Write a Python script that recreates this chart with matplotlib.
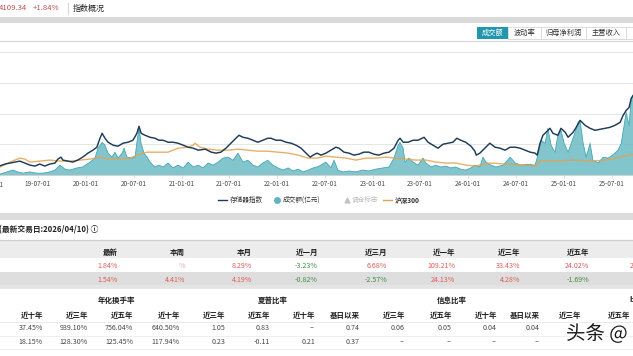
import matplotlib
matplotlib.use('Agg')
import matplotlib.pyplot as plt
from matplotlib.patches import Rectangle
from matplotlib.lines import Line2D
import matplotlib.patheffects as pe
import matplotlib.dates as mdates
import pandas as pd

plt.rcParams['font.family'] = ['Noto Sans CJK SC', 'DejaVu Sans']

# ---------------- data ----------------
index_dates = ['2019-02-07','2019-02-26','2019-03-17','2019-04-05','2019-04-24','2019-05-13','2019-06-01','2019-06-20',
 '2019-07-09','2019-07-28','2019-08-16','2019-09-05','2019-09-16','2019-09-28','2019-10-05','2019-10-24','2019-11-12',
 '2019-12-01','2019-12-20','2020-01-09','2020-01-28','2020-02-12','2020-02-24','2020-03-03','2020-03-14','2020-03-26',
 '2020-04-14','2020-05-03','2020-05-22','2020-06-10','2020-06-29','2020-07-14','2020-07-22','2020-07-30','2020-08-14',
 '2020-09-02','2020-09-21','2020-10-06','2020-10-22','2020-11-10','2020-11-29','2020-12-18','2021-01-07','2021-01-26',
 '2021-02-14','2021-03-05','2021-04-01','2021-04-24','2021-05-12','2021-05-31','2021-06-19','2021-07-08','2021-07-27',
 '2021-08-08','2021-08-23','2021-09-11','2021-09-30','2021-10-19','2021-11-07','2021-11-26','2021-12-08','2021-12-27',
 '2022-01-15','2022-02-04','2022-02-23','2022-03-14','2022-04-02','2022-04-21','2022-05-07','2022-05-18','2022-06-02',
 '2022-06-17','2022-07-06','2022-07-25','2022-08-13','2022-08-25','2022-09-13','2022-10-02','2022-10-21','2022-11-09',
 '2022-11-28','2022-12-17','2023-01-05','2023-01-24','2023-02-13','2023-03-04','2023-03-23','2023-04-08','2023-04-15',
 '2023-04-27','2023-05-16','2023-06-04','2023-06-23','2023-07-08','2023-07-16','2023-07-31','2023-08-19','2023-09-07',
 '2023-09-26','2023-10-15','2023-11-03','2023-11-18','2023-12-03','2023-12-22','2024-01-11','2024-01-26','2024-01-31',
 '2024-02-14','2024-03-04','2024-03-23','2024-04-12','2024-05-01','2024-05-20','2024-06-09','2024-06-28','2024-07-17',
 '2024-08-05','2024-08-24','2024-09-12','2024-09-20','2024-10-01','2024-10-12','2024-10-24','2024-11-08','2024-11-19',
 '2024-12-08','2024-12-20','2025-01-05','2025-01-16','2025-02-04','2025-02-16','2025-03-03','2025-03-22','2025-04-10',
 '2025-04-29','2025-05-18','2025-06-07','2025-06-25','2025-07-14','2025-08-03','2025-08-14','2025-08-26','2025-09-06',
 '2025-09-14','2025-09-21']
index_values = [300,355,388,420,452,388,323,291,355,291,355,388,517,581,485,452,420,485,581,711,808,904,1195,1357,1195,
 1066,969,937,1034,1066,1131,1357,1583,1357,1292,1227,1195,1131,1131,1066,1066,1034,969,904,872,808,840,743,711,743,872,
 1034,1195,1292,1227,1195,1131,1066,1131,1195,1195,1131,1131,1066,1034,969,872,711,581,646,711,646,711,808,904,872,743,
 711,646,678,743,743,678,646,711,743,872,1131,1195,1066,1066,1131,1131,1195,1227,1066,969,872,1001,1034,1066,1195,1131,
 1066,937,775,646,711,872,1034,904,872,808,904,904,872,808,743,711,646,1034,1292,1389,1518,1357,1292,1518,1389,1227,
 1389,1550,1777,1615,1518,1454,1486,1518,1550,1615,1712,1938,2100,2196,2487,2584]

hs300_dates = ['2019-02-07','2019-03-17','2019-04-24','2019-05-13','2019-06-01','2019-07-09','2019-08-16','2019-09-24',
 '2019-11-01','2019-12-09','2020-01-17','2020-02-24','2020-04-02','2020-05-11','2020-06-18','2020-07-14','2020-08-22',
 '2020-09-29','2020-11-10','2020-12-18','2021-01-26','2021-02-14','2021-02-21','2021-03-12','2021-04-12','2021-05-20',
 '2021-06-27','2021-08-04','2021-09-11','2021-10-19','2021-11-26','2022-01-04','2022-02-12','2022-03-22','2022-04-29',
 '2022-06-02','2022-07-06','2022-08-13','2022-09-21','2022-10-29','2022-12-06','2023-01-13','2023-02-20','2023-03-31',
 '2023-05-08','2023-06-15','2023-07-23','2023-08-30','2023-10-07','2023-11-14','2023-12-22','2024-01-26','2024-03-23',
 '2024-05-24','2024-07-28','2024-09-16','2024-09-28','2024-12-01','2025-02-04','2025-04-10','2025-06-10','2025-08-03',
 '2025-09-21']
hs300_values = [258,420,549,517,420,452,485,452,452,485,517,581,517,517,549,646,743,743,743,872,904,969,1034,904,840,808,
 808,840,808,775,775,743,711,646,549,549,614,581,549,485,549,549,581,549,517,485,485,420,388,388,323,291,388,355,323,291,
 452,452,485,452,485,581,678]

volume_dates = ['2019-02-07','2019-03-05','2019-03-28','2019-04-16','2019-05-05','2019-06-01','2019-06-27','2019-07-20',
 '2019-08-16','2019-09-05','2019-09-24','2019-10-13','2019-11-01','2019-11-28','2019-12-20','2020-01-17','2020-02-05',
 '2020-02-16','2020-03-03','2020-03-14','2020-03-26','2020-04-10','2020-04-21','2020-05-03','2020-05-18','2020-05-26',
 '2020-06-06','2020-06-25','2020-07-07','2020-07-14','2020-07-22','2020-07-30','2020-08-10','2020-08-22','2020-09-02',
 '2020-09-21','2020-10-06','2020-10-22','2020-11-10','2020-11-29','2020-12-18','2021-01-07','2021-01-26','2021-02-14',
 '2021-03-05','2021-03-24','2021-04-12','2021-05-01','2021-05-20','2021-06-08','2021-06-27','2021-07-16','2021-08-04',
 '2021-08-23','2021-09-11','2021-09-30','2021-10-19','2021-11-07','2021-11-26','2021-12-15','2022-01-04','2022-01-23',
 '2022-02-12','2022-03-03','2022-03-22','2022-04-10','2022-04-29','2022-05-18','2022-06-02','2022-06-17','2022-07-06',
 '2022-07-25','2022-08-06','2022-08-21','2022-09-09','2022-10-02','2022-10-29','2022-11-24','2022-12-17','2023-01-13',
 '2023-02-09','2023-03-04','2023-03-23','2023-04-08','2023-04-15','2023-04-27','2023-05-04','2023-05-19','2023-06-04',
 '2023-06-23','2023-07-12','2023-07-23','2023-08-11','2023-08-30','2023-09-18','2023-10-07','2023-10-26','2023-11-14',
 '2023-12-03','2023-12-22','2024-01-11','2024-01-26','2024-02-14','2024-02-26','2024-03-08','2024-03-27','2024-04-16',
 '2024-05-13','2024-06-09','2024-06-28','2024-07-21','2024-08-16','2024-09-12','2024-09-23','2024-10-05','2024-10-20',
 '2024-10-31','2024-11-12','2024-11-27','2024-12-08','2024-12-20','2025-01-01','2025-01-16','2025-01-28','2025-02-12',
 '2025-02-23','2025-03-03','2025-03-14','2025-03-26','2025-04-10','2025-04-21','2025-05-11','2025-05-30','2025-06-18',
 '2025-07-06','2025-07-26','2025-08-07','2025-08-18','2025-08-26','2025-09-06','2025-09-14','2025-09-21']
volume_values = [3,10,16,10,6,10,6,6,10,16,32,19,16,23,26,42,55,87,106,97,71,58,74,55,71,87,58,55,58,106,152,103,71,58,
 42,26,32,26,39,23,32,23,42,26,32,23,39,32,42,55,58,48,71,42,48,32,26,39,48,32,23,16,23,13,19,10,16,23,26,32,42,23,48,
 16,10,13,10,16,13,19,23,26,55,97,106,87,42,55,42,32,55,39,26,32,26,29,23,26,19,16,23,32,26,58,42,32,26,32,58,39,32,
 35,32,65,113,103,152,97,74,129,145,103,74,103,139,171,177,106,58,103,48,39,58,55,65,81,103,161,203,161,248,258]

tick_dates = ['2019-07-01','2020-01-01','2020-07-01','2021-01-01','2021-07-01','2022-01-01','2022-07-01',
              '2023-01-01','2023-07-01','2024-01-01','2024-07-01','2025-01-01','2025-07-01']

perf_headers = ['最新', '本周', '本月', '近一月', '近三月', '近一年', '近三年', '近五年']
perf_row1 = ['1.84%', '%', '8.29%', '-3.23%', '6.68%', '109.21%', '33.43%', '24.02%']
perf_row2 = ['1.54%', '4.41%', '4.19%', '-0.82%', '-2.57%', '24.13%', '4.28%', '-1.69%']

risk_groups = ['年化换手率', '夏普比率', '信息比率']
risk_sub = ['近十年', '近三年', '近五年', '近十年', '近三年', '近五年', '近十年', '基日以来',
            '近三年', '近五年', '近十年', '基日以来', '近三年', '近五年']
risk_rowA = ['37.45%', '939.10%', '756.04%', '640.50%', '1.05', '0.83', '--', '0.74', '0.06', '0.05', '0.04', '0.04']
risk_rowB = ['18.15%', '128.30%', '125.45%', '117.94%', '0.23', '-0.11', '0.21', '0.37', '--', '--', '--', '--']

# ---------------- figure ----------------
W, H = 633, 356
fig = plt.figure(figsize=(W / 100, H / 100), dpi=100)
fig.patch.set_facecolor('white')

def fx(x):
    return x / W

def fy(y):
    return 1 - y / H

def rect(x0, y0, x1, y1, fc, ec='none', lw=0.0, z=0):
    fig.add_artist(Rectangle((fx(x0), fy(y1)), fx(x1) - fx(x0), fy(y0) - fy(y1),
                             transform=fig.transFigure, facecolor=fc, edgecolor=ec,
                             linewidth=lw, zorder=z))

def hline(x0, x1, y, color, lw=0.6, z=1):
    fig.add_artist(Line2D([fx(x0), fx(x1)], [fy(y), fy(y)], transform=fig.transFigure,
                          color=color, lw=lw, zorder=z))

def vline(x, y0, y1, color, lw=0.6, z=1):
    fig.add_artist(Line2D([fx(x), fx(x)], [fy(y0), fy(y1)], transform=fig.transFigure,
                          color=color, lw=lw, zorder=z))

def txt(x, y, s, size=5.2, color='#333333', ha='left', weight='normal', z=3):
    return fig.text(fx(x), fy(y), s, fontsize=size, color=color, ha=ha, va='center',
                    weight=weight, zorder=z)

RED = '#de5b5b'
GREEN = '#3d8f45'

# header
txt(-1, 8.5, '4109.34', 5.6, '#c0504d')
txt(33, 8.5, '+1.84%', 5.6, '#c0504d')
vline(68, 3, 14, '#d8d8d8', 0.8)
txt(73, 8.5, '指数概况', 5.8, '#222222')
rect(0, 17, W, 23, '#dadada')
hline(0, W, 41, '#d4d4d4', 0.8)

# tabs
rect(477, 27, 508, 39, '#2196ae', z=2)
txt(492.5, 33, '成交额', 5.2, 'white', ha='center')
rect(508, 27, 640, 39, 'white', ec='#d6d6d6', lw=0.6, z=2)
for sx in (541, 586, 626):
    vline(sx, 27, 39, '#d6d6d6', 0.6, z=3)
txt(524.5, 33, '波动率', 5.2, '#333333', ha='center')
txt(564, 33, '归母净利润', 5.2, '#333333', ha='center')
txt(606, 33, '主营收入', 5.2, '#333333', ha='center')

# ---------------- chart ----------------
xl0 = pd.Timestamp('2019-02-07')
xl1 = pd.Timestamp('2025-09-21')
ax = fig.add_axes([0, fy(175), 1, fy(52) - fy(175)])
ax.set_xlim(xl0, xl1)
ax.set_ylim(0, 400)
ax.set_facecolor('none')
vd = pd.to_datetime(volume_dates)
ax.fill_between(vd, volume_values, 0, color='#74bfc8', alpha=0.9, linewidth=0, zorder=2)
ax.plot(vd, volume_values, color='#45a6b5', lw=0.6, zorder=3)
ax.set_yticks([0, 100, 200, 300, 400])
ax.yaxis.grid(True, color='#e6e6e6', lw=0.7)
ax.set_axisbelow(True)
ax.tick_params(axis='y', length=0, labelleft=False)
for s in ('left', 'right', 'top'):
    ax.spines[s].set_visible(False)
ax.spines['bottom'].set_color('#d0d0d0')
ax.spines['bottom'].set_linewidth(0.7)
ax.set_xticks(pd.to_datetime(tick_dates))
ax.xaxis.set_major_formatter(mdates.DateFormatter('%y-%m-%d'))
ax.tick_params(axis='x', length=2, width=0.5, color='#cccccc', pad=1.8,
               labelsize=4.6, labelcolor='#4a4a4a')
ax.text(pd.Timestamp('2019-01-01'), -0.045, '19-01-01', transform=ax.get_xaxis_transform(),
        fontsize=4.6, color='#4a4a4a', ha='center', va='top', clip_on=False)

ax2 = ax.twinx()
ax2.set_ylim(0, 4000)
ax2.set_xlim(xl0, xl1)
ax2.plot(pd.to_datetime(hs300_dates), hs300_values, color='#e3a24e', lw=1.0, alpha=0.85, zorder=3)
ax2.plot(pd.to_datetime(index_dates), index_values, color='#1e3b57', lw=1.05, zorder=4)
ax2.set_yticks([])
for s in ('left', 'right', 'top', 'bottom'):
    ax2.spines[s].set_visible(False)

# legend
ly = 200
hline(218, 227, ly, '#1e3b57', 1.0, z=3)
txt(230, ly, '存储器指数', 4.8, '#333333')
fig.add_artist(Line2D([fx(277)], [fy(ly)], marker='o', markersize=4, color='#5fb6c2',
                      transform=fig.transFigure, zorder=3))
txt(283, ly, '成交额(亿元)', 4.8, '#333333')
fig.add_artist(Line2D([fx(347)], [fy(ly)], marker='^', markersize=3.5, color='#c4c4c4',
                      transform=fig.transFigure, zorder=3))
txt(352, ly, '调仓标志', 4.8, '#bbbbbb')
hline(383, 392, ly, '#e3a24e', 1.0, z=3)
txt(395, ly, '沪深300', 4.8, '#333333', weight='bold')

# ---------------- performance table ----------------
rect(0, 213, W, 220, '#dcdcdc')
txt(-1, 229.5, '(最新交易日:2026/04/10) ⓘ', 5.6, '#222222', weight='bold')
hline(0, W, 239.5, '#cfcfcf', 0.9)
rect(0, 241, W, 258, '#ececec')
rect(0, 272, W, 285, '#dedede')
rect(0, 285, W, 289, '#e4e4e4')
perf_right = [118, 185, 252, 318, 387, 455, 520, 589]
for xr, h in zip(perf_right, perf_headers):
    txt(xr, 252.5, h, 5.4, '#1e1e1e', ha='right', weight='bold')

def pcolor(s):
    return GREEN if s.startswith('-') else RED

for xr, v in zip(perf_right, perf_row1):
    c = '#eaa5a5' if v == '%' else pcolor(v)
    txt(xr, 266, v, 5.1, c, ha='right')
txt(630, 266, '2', 5.1, RED)
for xr, v in zip(perf_right, perf_row2):
    txt(xr, 279.5, v, 5.1, pcolor(v), ha='right')

# ---------------- risk table ----------------
group_centers = [117, 273, 452]
for xc, g in zip(group_centers, risk_groups):
    txt(xc, 300, g, 5.4, '#1e1e1e', ha='center', weight='bold')
txt(629, 300, 'b', 5.4, '#1e1e1e', weight='bold')
sub_right = [43, 88, 133, 180, 225, 270, 315, 360, 405, 452, 497, 540, 581, 630]
for xr, s in zip(sub_right, risk_sub):
    txt(xr, 315, s, 5.4, '#1e1e1e', ha='right', weight='bold')
hline(0, W, 322, '#e6e6e6', 0.6)
for xr, v in zip(sub_right, risk_rowA):
    txt(xr, 328.5, v, 5.1, '#444444', ha='right')
hline(0, W, 335.5, '#ececec', 0.6)
for xr, v in zip(sub_right, risk_rowB):
    txt(xr, 342, v, 5.1, '#444444', ha='right')
hline(0, W, 349, '#ececec', 0.6)

# watermark
wm = txt(566, 334, '头条 @', 14, '#1a1a1a', z=6)
wm.set_path_effects([pe.withStroke(linewidth=2.5, foreground='white')])

fig.savefig('out.png', dpi=100, facecolor='white')
